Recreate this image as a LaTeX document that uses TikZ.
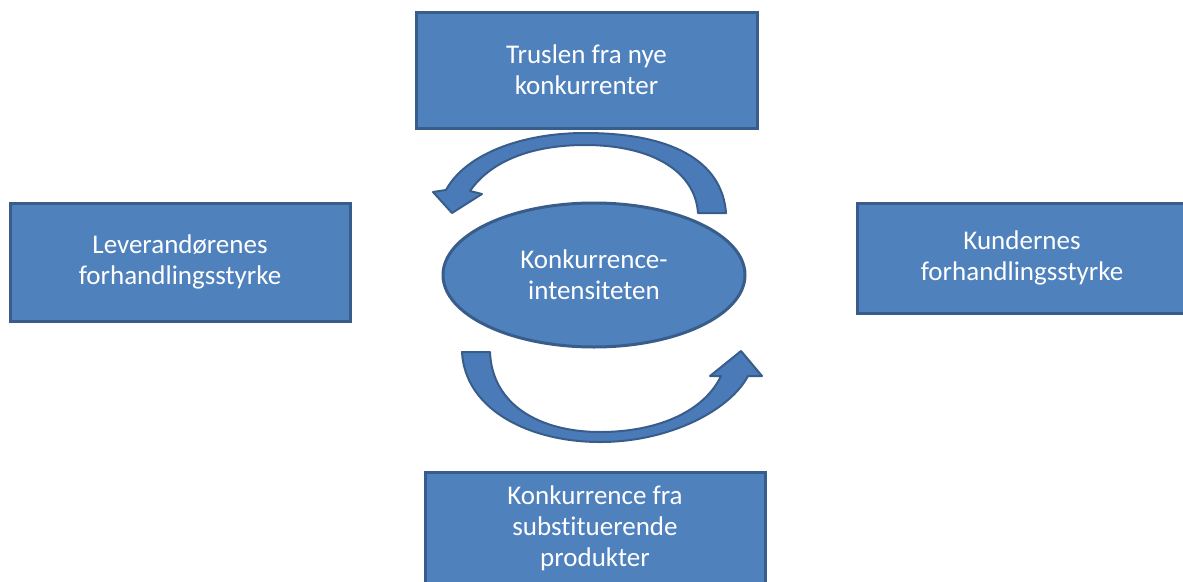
\documentclass[tikz,border=0pt]{standalone}
\usepackage{fontspec}
\setmainfont{Carlito}[Ligatures=NoCommon]
\usetikzlibrary{shapes.geometric}

\definecolor{boxfill}{HTML}{4F81BD}
\definecolor{boxline}{HTML}{385D8A}
\definecolor{arrowfill}{HTML}{4A7BB8}

\tikzset{
    forcebox/.style={draw=boxline, line width=3pt, fill=boxfill, text=white, align=center,
        inner sep=0pt, font=\fontsize{27}{31}\selectfont},
    cyclearrow/.style={draw=boxline, line width=2pt, fill=arrowfill, line join=round}
}

\begin{document}
\begin{tikzpicture}[x=1pt, y=-1pt]
    \useasboundingbox (0,0) rectangle (1183,581);

    \node[forcebox, minimum width=341pt, minimum height=116pt] (trusel) at (586.5,70) {Truslen fra nye\\konkurrenter};
    \node[forcebox, minimum width=340pt, minimum height=118pt] (leverandor) at (180,262) {Leverandørenes\\forhandlingsstyrke};
    \node[forcebox, minimum width=330pt, minimum height=110pt] (kunder) at (1022,258) {Kundernes\\forhandlingsstyrke};
    \node[forcebox, minimum width=340pt, minimum height=112pt] (substitutt) at (595,528) {Konkurrence fra\\substituerende\\produkter};

    \node[forcebox, ellipse, minimum width=302pt, minimum height=144pt] (intensitet) at (594,275) {Konkurrence-\\intensiteten};

    % top arrow, turning left
    \filldraw[cyclearrow] (726,213) .. controls (722,160) and (670,133) .. (585,133)
        .. controls (520,133) and (465,155) .. (446,190)
        -- (433,192) -- (452,213) -- (482,194) -- (470,191)
        .. controls (490,162) and (530,145) .. (585,145)
        .. controls (650,145) and (695,170) .. (698,213) -- cycle;

    % bottom arrow, turning right
    \filldraw[cyclearrow] (462,352) .. controls (465,410) and (530,442) .. (600,442)
        .. controls (670,442) and (730,410) .. (748,376)
        -- (762,376) -- (741,351) -- (710,376) -- (721,376)
        .. controls (705,410) and (660,432) .. (600,432)
        .. controls (540,432) and (492,405) .. (490,352) -- cycle;
\end{tikzpicture}
\end{document}
